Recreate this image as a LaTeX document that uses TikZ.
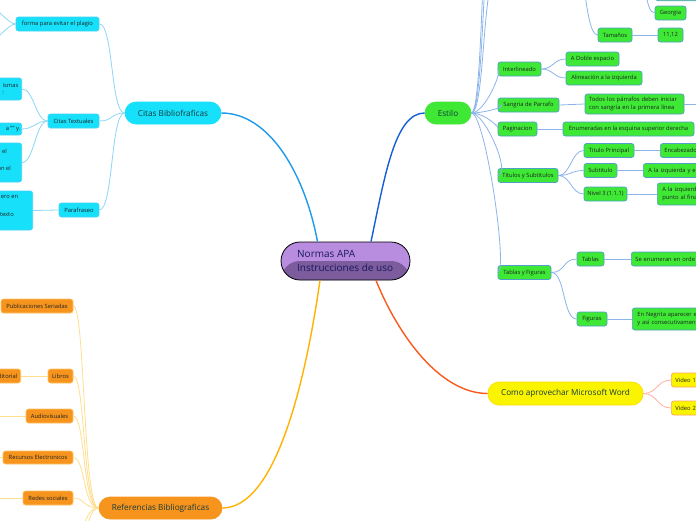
\documentclass[tikz,border=0pt]{standalone}
\usepackage{fontspec}
\setmainfont{Open Sans}
\definecolor{cyanF}{RGB}{22,224,250}
\definecolor{cyanB}{RGB}{70,212,245}
\definecolor{greenF}{RGB}{62,232,52}
\definecolor{greenB}{RGB}{80,160,200}
\definecolor{orangeF}{RGB}{247,148,29}
\definecolor{orangeB}{RGB}{255,195,100}
\definecolor{yellowF}{RGB}{250,244,0}
\definecolor{yellowB}{RGB}{255,165,95}
\definecolor{purpT}{RGB}{184,140,222}
\definecolor{purpB}{RGB}{124,92,156}
\definecolor{navy}{RGB}{25,25,95}
\definecolor{txt}{RGB}{30,35,35}
\definecolor{pilltxt}{RGB}{20,60,60}
\definecolor{cyanMain}{RGB}{30,155,235}
\definecolor{greenMain}{RGB}{20,95,215}
\definecolor{redMain}{RGB}{250,90,30}
\definecolor{orangeMain}{RGB}{255,178,0}
\definecolor{cyanL}{RGB}{140,215,245}
\definecolor{greenL}{RGB}{140,180,235}
\definecolor{orangeL}{RGB}{255,222,140}
\definecolor{yellowL}{RGB}{255,178,160}
\begin{document}
\begin{tikzpicture}[x=1pt,y=-1pt,
  tiny/.style={font=\fontsize{5.8}{8.5}\selectfont, text=txt},
  sbox/.style={rounded corners=2.5pt, line width=0.7pt, inner sep=0pt, tiny},
  cbox/.style={sbox, fill=cyanF, draw=cyanB},
  gbox/.style={sbox, fill=greenF, draw=greenB},
  obox/.style={sbox, fill=orangeF, draw=orangeB},
  ybox/.style={sbox, fill=yellowF, draw=yellowB},
  pill/.style={rounded corners=11pt, inner sep=0pt, line width=0.7pt, font=\fontsize{8.2}{9}\selectfont, text=pilltxt, minimum height=22pt},
  lbl/.style={tiny, inner sep=0pt},
  cl/.style={draw=cyanL, line width=0.8pt},
  gl/.style={draw=greenL, line width=0.8pt},
  ol/.style={draw=orangeL, line width=0.8pt},
  yl/.style={draw=yellowL, line width=0.8pt},
  mainl/.style={line width=1.4pt}]
\useasboundingbox (0,0) rectangle (696,520);
\clip (0,0) rectangle (696,520);
\fill[white] (0,0) rectangle (696,520);

% central
\node[draw=black, line width=0.8pt, rounded corners=19pt, fill=purpT, minimum width=129pt, minimum height=38pt, inner sep=0pt,
  path picture={\fill[purpB] (path picture bounding box.west) rectangle (path picture bounding box.south east);}] (central) at (345.5,261) {};
\node[font=\fontsize{10}{14}\selectfont, text=navy, align=left, anchor=west, inner sep=0pt] (ctext) at (297,261) {Normas APA\\Instrucciones de uso};

% main branches
\node[pill, fill=cyanF, draw=cyanF, minimum width=96pt] (citas) at (173,113) {Citas Bibliofraficas};
\node[pill, fill=greenF, draw=greenF, minimum width=46pt] (estilo) at (448,113) {Estilo};
\node[pill, fill=yellowF, draw=yellowF!80!orange, minimum width=155pt, minimum height=23pt] (como) at (565.5,393.5) {Como aprovechar Microsoft Word};
\node[pill, fill=orangeF, draw=orangeF, minimum width=123pt] (refs) at (160.5,508) {Referencias Bibliograficas};

\draw[mainl, cyanMain] (central.north) ++(-28,0) coordinate (cA) .. controls (305,175) and (270,113) .. (citas.east);
\draw[mainl, greenMain] (central.north) ++(25.5,0) coordinate (cB) .. controls (385,175) and (395,113) .. (estilo.west);
\draw[mainl, redMain] (central.south) ++(30.5,0) coordinate (cC) .. controls (398,335) and (440,393.5) .. (como.west);
\draw[mainl, orangeMain] (central.south) ++(-25.5,0) coordinate (cD) .. controls (305,385) and (275,508) .. (refs.east);

% ---- Citas branch
\node[cbox, minimum width=83pt, minimum height=14pt] (plagio) at (57.5,24) {forma para evitar el plagio};
\node[cbox, minimum width=51pt, minimum height=14pt] (textuales) at (73.5,121) {Citas Textuales};
\node[cbox, minimum width=40pt, minimum height=14pt] (parafraseo) at (79,210) {Parafraseo};
\draw[cl] (citas.west) .. controls +(-14,0) and +(14,0) .. (plagio.east);
\draw[cl] (citas.west) .. controls +(-14,0) and +(14,0) .. (textuales.east);
\draw[cl] (citas.west) .. controls +(-14,0) and +(14,0) .. (parafraseo.east);
\coordinate (pu) at (-12,4);
\coordinate (pd) at (-12,44);
\draw[cl] (plagio.west) .. controls +(-8,0) and +(6,0) .. (pu);
\draw[cl] (plagio.west) .. controls +(-8,0) and +(6,0) .. (pd);

\node[cbox, minimum width=60pt, minimum height=22pt, anchor=east] (ct1) at (22,89) {};
\node[lbl, anchor=east] (ct1a) at (18.5,85) {ismas};
\node[lbl, anchor=east] (ct1b) at (4,93) {:};
\node[cbox, minimum width=60pt, minimum height=12pt, anchor=east] (ct2) at (22,129) {};
\node[lbl, anchor=east] (ct2a) at (20.5,129) {a "" y.};
\node[cbox, minimum width=60pt, minimum height=39pt, anchor=east] (ct3) at (22,162.5) {};
\node[lbl, anchor=east] (ct3a) at (7,151) {el};
\node[lbl, anchor=east] (ct3b) at (11,168) {on el};
\node[cbox, minimum width=70pt, minimum height=39pt, anchor=east] (pc) at (33,210.5) {};
\node[lbl, anchor=east] (pca) at (18.5,197) {ero en};
\node[lbl, anchor=east] (pcb) at (14,215) {texto};
\draw[cl] (textuales.west) .. controls +(-12,0) and +(12,0) .. (ct1.east);
\draw[cl] (textuales.west) .. controls +(-12,0) and +(12,0) .. (ct2.east);
\draw[cl] (textuales.west) .. controls +(-12,0) and +(12,0) .. (ct3.east);
\draw[cl] (parafraseo.west) -- (pc.east);

% ---- Estilo branch
\node[gbox, minimum width=43pt, minimum height=14pt] (inter) at (519.5,69) {Interlineado};
\node[gbox, minimum width=53pt, minimum height=14pt] (doble) at (592.5,59) {A Doble espacio};
\node[gbox, minimum width=76pt, minimum height=14pt] (alin) at (604,78) {Alineación a la izquierda};
\node[gbox, minimum width=61pt, minimum height=14pt] (sangria) at (528.5,105) {Sangria de Parrafo};
\node[gbox, text width=91pt, inner xsep=4pt, minimum height=20pt, align=left] (todos) at (634.5,104) {Todos los párrafos deben iniciar\\con sangría en la primera línea};
\node[gbox, minimum width=39pt, minimum height=14pt] (pagin) at (517.5,129) {Paginacion};
\node[gbox, minimum width=131pt, minimum height=14pt] (enum) at (628.5,129) {Enumeradas en la esquina superior derecha};
\node[gbox, minimum width=60pt, minimum height=14pt] (titulos) at (528,175.5) {Titulos y Subtitulos};
\node[gbox, minimum width=50pt, minimum height=14pt] (tprin) at (609,150.5) {Titulo Principal};
\node[gbox, minimum width=33pt, minimum height=14pt] (subt) at (600.5,170.5) {Subtitulo};
\node[gbox, minimum width=43pt, minimum height=14pt] (nivel) at (605.5,194) {Nivel 3 (1.1.1)};
\node[gbox, anchor=west, text width=60pt, inner xsep=4pt, minimum height=14pt, align=left] (encab) at (660,150.5) {Encabezado};
\node[gbox, anchor=west, text width=60pt, inner xsep=5pt, minimum height=14pt, align=left] (aizq) at (643,170.5) {A la izquierda y e};
\node[gbox, anchor=west, text width=60pt, inner xsep=5pt, minimum height=22pt, align=left] (aizq3) at (657,194) {A la izquierd\\punto al fina};
\node[gbox, minimum width=53pt, minimum height=14pt] (tabfig) at (524.5,272.5) {Tablas y Figuras};
\node[gbox, minimum width=27pt, minimum height=14pt] (tablas) at (590.5,259) {Tablas};
\node[gbox, minimum width=30pt, minimum height=14pt] (figuras) at (592,319) {Figuras};
\node[gbox, anchor=west, text width=80pt, inner xsep=4pt, minimum height=14pt, align=left] (seenum) at (631,259) {Se enumeran en orde};
\node[gbox, anchor=west, text width=80pt, inner xsep=5pt, minimum height=22pt, align=left] (negrita) at (632,319) {En Negrita aparecer e\\y así consecutivamen};
\node[gbox, minimum width=34pt, minimum height=14pt] (tam) at (615,35) {Tamaños};
\node[gbox, minimum width=25pt, minimum height=14pt] (once) at (670.5,35) {11,12};
\node[gbox, minimum width=31pt, minimum height=14pt] (georgia) at (670.5,13) {Georgia};
\node[gbox, anchor=south west, minimum width=50pt, minimum height=14pt] (topbox) at (655,1) {};

\coordinate (e1) at (498,-30);
\coordinate (e2) at (498,-110);
\coordinate (e3) at (498,-200);
\coordinate (fuente) at (572,-60);
\coordinate (fonts) at (638,-28);
\coordinate (todosnext) at (704,104);
\foreach \t in {e1,e2,e3,inter,sangria,pagin,titulos,tabfig}
  \draw[gl] (estilo.east) .. controls +(14,0) and +(-16,0) .. (\t);
\draw[gl] (fuente) .. controls +(12,0) and +(-14,0) .. (tam.west);
\draw[gl] (fonts) .. controls +(8,0) and +(-10,0) .. (georgia.west);
\draw[gl] (tam.east) -- (once.west);
\draw[gl] (inter.east) .. controls +(12,0) and +(-12,0) .. (doble.west);
\draw[gl] (inter.east) .. controls +(12,0) and +(-12,0) .. (alin.west);
\draw[gl] (sangria.east) -- (todos.west);
\draw[gl] (todos.east) -- (todosnext);
\draw[gl] (pagin.east) -- (enum.west);
\draw[gl] (titulos.east) .. controls +(12,0) and +(-12,0) .. (tprin.west);
\draw[gl] (titulos.east) .. controls +(12,0) and +(-12,0) .. (subt.west);
\draw[gl] (titulos.east) .. controls +(12,0) and +(-12,0) .. (nivel.west);
\draw[gl] (tprin.east) -- (encab.west);
\draw[gl] (subt.east) -- (aizq.west);
\draw[gl] (nivel.east) -- (aizq3.west);
\draw[gl] (tabfig.east) .. controls +(14,0) and +(-14,0) .. (tablas.west);
\draw[gl] (tabfig.east) .. controls +(14,0) and +(-14,0) .. (figuras.west);
\draw[gl] (tablas.east) -- (seenum.west);
\draw[gl] (figuras.east) -- (negrita.west);

% ---- Como branch
\node[ybox, anchor=west, text width=40pt, inner xsep=4pt, minimum height=14pt, align=left] (v1) at (671,380) {Video 1};
\node[ybox, anchor=west, text width=40pt, inner xsep=4pt, minimum height=14pt, align=left] (v2) at (671,408) {Video 2};
\draw[yl] (como.east) .. controls +(14,0) and +(-14,0) .. (v1.west);
\draw[yl] (como.east) .. controls +(14,0) and +(-14,0) .. (v2.west);

% ---- Referencias branch
\node[obox, minimum width=72pt, minimum height=14pt] (pub) at (37,306) {Publicaciones Seriadas};
\node[obox, minimum width=25pt, minimum height=14pt] (libros) at (60.5,376) {Libros};
\node[obox, minimum width=47pt, minimum height=14pt] (audio) at (49.5,416) {Audiovisuales};
\node[obox, minimum width=70pt, minimum height=13pt] (recursos) at (38,457.5) {Recursos Electronicos};
\node[obox, minimum width=50pt, minimum height=14pt] (redes) at (48,498) {Redes sociales};
\node[obox, anchor=east, minimum width=50pt, minimum height=14pt] (edit) at (21,376) {};
\node[lbl, anchor=east] (edita) at (17.5,376) {ditorial};
\coordinate (r1) at (73,540);
\coordinate (r2) at (73,575);
\coordinate (aud0) at (-10,416);
\coordinate (rec0) at (-10,457.5);
\coordinate (red0) at (-10,498);
\foreach \t in {pub,libros,audio,recursos,redes}
  \draw[ol] (refs.west) .. controls +(-16,0) and +(12,0) .. (\t.east);
\foreach \t in {r1,r2}
  \draw[ol] (refs.west) .. controls +(-16,0) and +(12,0) .. (\t);
\draw[ol] (libros.west) -- (edit.east);
\draw[ol] (audio.west) -- (aud0);
\draw[ol] (recursos.west) -- (rec0);
\draw[ol] (redes.west) -- (red0);
\end{tikzpicture}
\end{document}
